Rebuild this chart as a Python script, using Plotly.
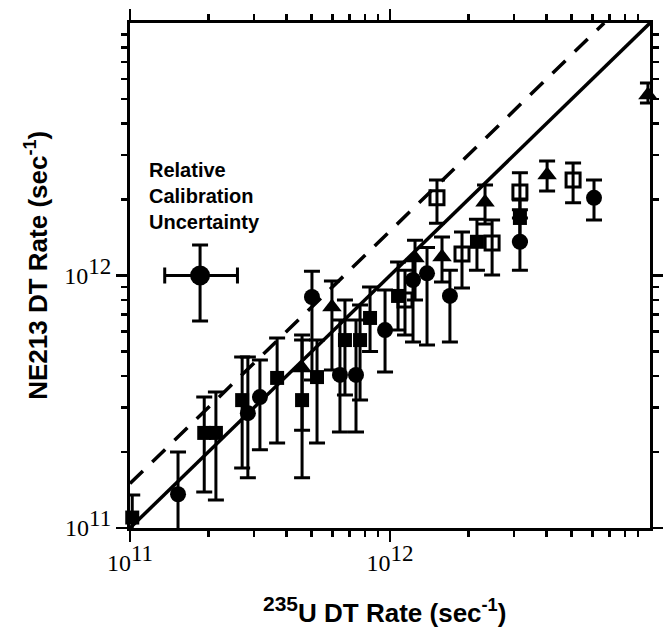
import plotly.graph_objects as go

# ---- data ----
circ_x  = [1.53e11, 2.84e11, 3.16e11, 5.01e11, 6.42e11, 7.40e11, 9.57e11, 1.226e12, 1.388e12, 1.70e12, 3.16e12, 6.09e12]
circ_y  = [1.36e11, 2.85e11, 3.30e11, 8.22e11, 4.04e11, 4.04e11, 6.08e11, 9.60e11, 1.02e12, 8.30e11, 1.36e12, 2.03e12]
circ_hi = [2.00e11, 4.76e11, 4.63e11, 1.04e12, 6.66e11, 6.66e11, 8.76e11, 1.15e12, 1.29e12, 1.05e12, 1.69e12, 2.39e12]
circ_lo = [0.90e11, 1.58e11, 2.04e11, 3.86e11, 2.40e11, 2.40e11, 4.15e11, 5.45e11, 5.31e11, 5.45e11, 1.05e12, 1.66e12]

sq_x  = [1.02e11, 1.93e11, 2.14e11, 2.70e11, 3.68e11, 4.59e11, 5.24e11, 6.71e11, 7.67e11, 1.074e12, 2.16e12, 3.16e12, 8.38e11]
sq_y  = [1.10e11, 2.38e11, 2.38e11, 3.21e11, 3.93e11, 3.21e11, 3.96e11, 5.55e11, 5.55e11, 8.30e11, 1.36e12, 1.69e12, 6.79e11]
sq_hi = [1.35e11, 3.30e11, 3.46e11, 4.76e11, 5.66e11, 5.55e11, 5.55e11, 8.00e11, 7.64e11, 1.13e12, 1.67e12, 1.99e12, 9.00e11]
sq_lo = [0.90e11, 1.39e11, 1.29e11, 1.73e11, 2.17e11, 1.58e11, 2.17e11, 3.36e11, 3.21e11, 6.08e11, 1.05e12, 1.36e12, 5.00e11]

osq_x  = [1.142e12, 1.516e12, 1.892e12, 2.47e12, 3.16e12, 5.06e12]
osq_y  = [8.00e11, 2.03e12, 1.217e12, 1.345e12, 2.14e12, 2.39e12]
osq_hi = [1.05e12, 2.39e12, 1.487e12, 1.66e12, 2.55e12, 2.79e12]
osq_lo = [5.81e11, 1.61e12, 8.92e11, 1.005e12, 1.82e12, 1.94e12]

tri_x  = [4.59e11, 5.98e11, 1.248e12, 1.585e12, 2.32e12, 4.02e12, 9.82e12]
tri_y  = [4.30e11, 7.50e11, 1.173e12, 1.184e12, 1.95e12, 2.50e12, 5.19e12]
tri_hi = [5.81e11, 9.51e11, 1.38e12, 1.42e12, 2.28e12, 2.84e12, 5.79e12]
tri_lo = [2.44e11, 4.22e11, 8.00e11, 9.43e11, 1.60e12, 2.16e12, 4.82e12]

cal_x, cal_x_lo, cal_x_hi = [1.86e11], [1.36e11], [2.59e11]
cal_y, cal_y_lo, cal_y_hi = [1.0e12], [6.6e11], [1.32e12]

line_x = [1e11, 1e13]
dash_ratio = 1.5

tick_vals = [1e11, 1e12]
tick_text = ["10<sup><span style='font-size:23px'>11</span></sup>",
             "10<sup><span style='font-size:23px'>12</span></sup>"]
minor_vals = [k * 10.0 ** d for d in (11, 12) for k in range(2, 10)]

x_title = "<b><sup><span style='font-size:21px'>235</span></sup>U DT Rate (sec<sup>-1</sup>)</b>"
y_title = "<b>NE213 DT Rate (sec<sup>-1</sup>)</b>"
note = "<b>Relative<br>Calibration<br>Uncertainty</b>"

fig = go.Figure()

# reference lines
fig.add_trace(go.Scatter(x=line_x, y=line_x, mode="lines",
                         line=dict(color="black", width=3.5)))
fig.add_trace(go.Scatter(x=[line_x[0], line_x[1] / dash_ratio],
                         y=[line_x[0] * dash_ratio, line_x[1]], mode="lines",
                         line=dict(color="black", width=3.5, dash="18px,13px")))

def err(vals, hi, lo):
    return dict(type="data", symmetric=False,
                array=[h - v for h, v in zip(hi, vals)],
                arrayminus=[v - l for v, l in zip(vals, lo)],
                color="black", thickness=3, width=8)

def add_series(xs, ys, hi, lo, symbol, size, lw=0):
    fig.add_trace(go.Scatter(
        x=xs, y=ys, mode="markers", cliponaxis=False,
        marker=dict(symbol=symbol, size=size, color="black",
                    line=dict(color="black", width=lw)),
        error_y=err(ys, hi, lo)))

add_series(circ_x, circ_y, circ_hi, circ_lo, "circle", 16)
add_series(sq_x, sq_y, sq_hi, sq_lo, "square", 14)
add_series(osq_x, osq_y, osq_hi, osq_lo, "square-open", 14, 3)
add_series(tri_x, tri_y, tri_hi, tri_lo, "triangle-up", 17)

# relative calibration uncertainty
fig.add_trace(go.Scatter(
    x=cal_x, y=cal_y, mode="markers", cliponaxis=False,
    marker=dict(symbol="circle", size=20, color="black"),
    error_x=err(cal_x, cal_x_hi, cal_x_lo),
    error_y=err(cal_y, cal_y_hi, cal_y_lo)))

fig.add_annotation(x=0.033, y=0.735, xref="paper", yref="paper",
                   text=note, showarrow=False, xanchor="left", yanchor="top",
                   align="left",
                   font=dict(family="Liberation Sans", size=20, color="black"))

fig.add_annotation(x=0.49, y=-0.163, xref="paper", yref="paper",
                   text=x_title, showarrow=False, xanchor="center", yanchor="middle",
                   font=dict(family="Liberation Sans", size=26, color="black"))
fig.add_annotation(x=-0.18, y=0.52, xref="paper", yref="paper", textangle=-90,
                   text=y_title, showarrow=False, xanchor="center", yanchor="middle",
                   font=dict(family="Liberation Sans", size=26, color="black"))

axis_common = dict(
    type="log", range=[11, 13], showgrid=False, zeroline=False, automargin=False,
    showline=True, linecolor="black", linewidth=3, mirror="allticks",
    ticks="outside", ticklen=11, tickwidth=2.5, tickcolor="black",
    tickmode="array", tickvals=tick_vals, ticktext=tick_text,
    tickfont=dict(family="Liberation Serif", size=24, color="black"),
    minor=dict(tickmode="array", tickvals=minor_vals, ticks="outside",
               ticklen=6, tickwidth=2.5, tickcolor="black", showgrid=False),
)

fig.update_xaxes(**axis_common)
fig.update_yaxes(**axis_common)

fig.update_layout(width=663, height=630, showlegend=False,
                  plot_bgcolor="white", paper_bgcolor="white",
                  margin=dict(l=130, r=13, t=23, b=102))

fig.write_html("out.html",
               config={"displayModeBar": False, "staticPlot": True},
               post_script="document.body.style.margin='0';"
                           "document.body.style.overflow='hidden';")
